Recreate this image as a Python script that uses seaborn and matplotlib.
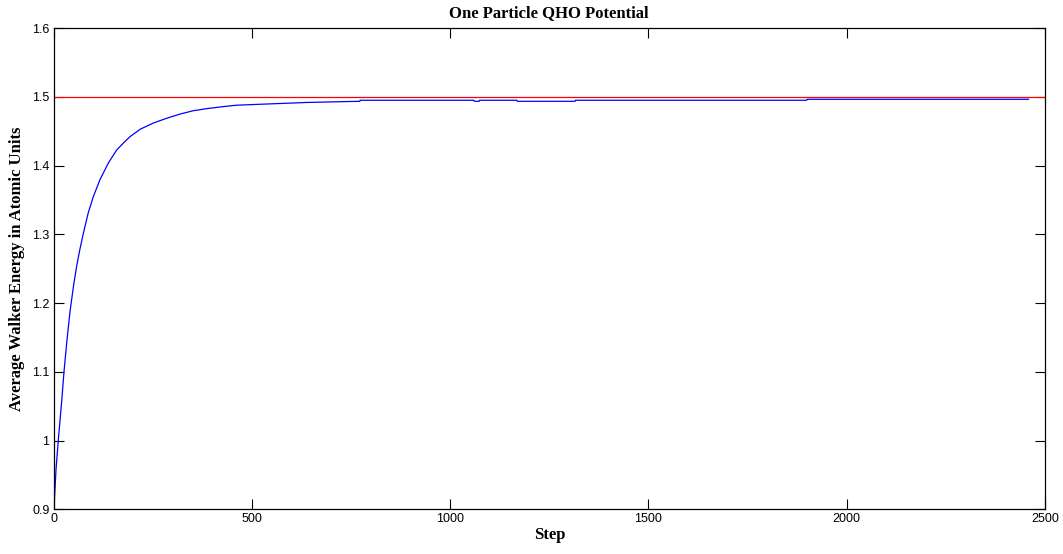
import matplotlib
matplotlib.use("Agg")
import matplotlib.pyplot as plt
import seaborn as sns
import pandas as pd

# Data
steps = [0, 1, 6, 12, 20, 26, 33, 41, 50, 58, 66, 75, 87, 100, 117, 138, 159, 176,
         192, 218, 251, 285, 318, 352, 386, 428, 461, 503, 638, 714, 772, 773,
         1060, 1061, 1073, 1074, 1168, 1169, 1315, 1316, 1899, 1900, 2459]
energy = [0.900, 0.904, 0.959, 1.003, 1.056, 1.100, 1.143, 1.187, 1.225, 1.254,
          1.278, 1.302, 1.331, 1.355, 1.380, 1.404, 1.423, 1.433,
          1.442, 1.453, 1.462, 1.469, 1.475, 1.480, 1.483, 1.486, 1.488, 1.489,
          1.492, 1.493, 1.4937, 1.4952,
          1.4952, 1.4937, 1.4937, 1.4952, 1.4952, 1.4937, 1.4937, 1.4952,
          1.4952, 1.4966, 1.4966]
exact_energy = 1.5
x_ticks = [0, 500, 1000, 1500, 2000, 2500]
y_ticks = [0.9, 1.0, 1.1, 1.2, 1.3, 1.4, 1.5, 1.6]
y_ticklabels = ["0.9", "1", "1.1", "1.2", "1.3", "1.4", "1.5", "1.6"]

df = pd.DataFrame({"Step": steps, "Energy": energy})

sns.set_style("ticks")
plt.rcParams["font.family"] = ["Liberation Sans", "DejaVu Sans"]
plt.rcParams["text.color"] = "black"
plt.rcParams["axes.labelcolor"] = "black"

fig = plt.figure(figsize=(10.63, 5.54), dpi=100)
ax = fig.add_axes([0.0505, 0.0807, 0.9325, 0.8683])

ax.axhline(exact_energy, color="#ff0000", lw=0.9, zorder=1)
sns.lineplot(data=df, x="Step", y="Energy", ax=ax, color="#0000ff", lw=0.9,
             estimator=None, sort=False, zorder=2)

ax.set_xlim(0, 2500)
ax.set_ylim(0.9, 1.6)
ax.set_xticks(x_ticks)
ax.set_xticklabels([str(t) for t in x_ticks])
ax.set_yticks(y_ticks)
ax.set_yticklabels(y_ticklabels)
ax.tick_params(direction="in", length=7, width=0.8, top=True, right=True,
               labelsize=9, colors="black", labelcolor="black", pad=3)

for s in ax.spines.values():
    s.set_color("black")
    s.set_linewidth(0.9)

serif = ["Liberation Serif", "DejaVu Serif"]
ax.set_xlabel("Step", fontsize=12, fontweight="bold", family=serif, labelpad=1,
              color="black")
ax.set_ylabel("Average Walker Energy in Atomic Units", fontsize=12,
              fontweight="bold", family=serif, labelpad=5, color="black")
ax.set_title("One Particle QHO Potential", fontsize=12, fontweight="bold",
             family=serif, pad=8, color="black")

fig.savefig("out.png", dpi=100)
